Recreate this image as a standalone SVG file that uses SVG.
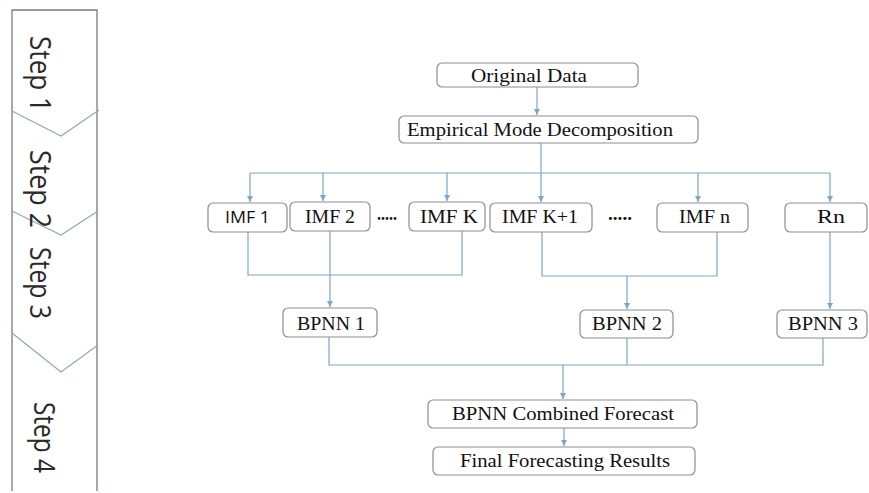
<svg xmlns="http://www.w3.org/2000/svg" width="869" height="493" viewBox="0 0 869 493">
<style>
.box{fill:#fff;stroke:#8e8e8e;stroke-width:1.2}
.t{font-family:"Liberation Serif","Times New Roman",serif;font-size:18px;fill:#111}
.s{font-family:"Open Sans","Noto Sans",sans-serif;font-size:16px;fill:#111}
.step{font-family:"Open Sans","Noto Sans",sans-serif;font-size:30px;fill:#2a2a2a}
.c{fill:none;stroke:#7ea6c9;stroke-width:1.2}
.a{fill:none;stroke:#7ea6c9;stroke-width:1.2;marker-end:url(#arr)}
.frame{fill:none;stroke:#6f7d85;stroke-width:1.3}
.chev{fill:none;stroke:#8eaab8;stroke-width:1.2}
</style>
<defs>
<marker id="arr" markerWidth="8" markerHeight="8" refX="6" refY="3" orient="auto" markerUnits="userSpaceOnUse">
<path d="M0,0 L6,3 L0,6 Z" fill="#7ea6c9"/>
</marker>
</defs>
<rect width="869" height="493" fill="#fff"/>

<g id="steps">
<path class="frame" d="M12,491 L12,10 L97,10 L97,491"/>
<polyline class="chev" points="12,111 61,136 99,110"/>
<polyline class="chev" points="12,211 61,235 98,211"/>
<polyline class="chev" points="12,333 61,372 98,345"/>
<text class="step" transform="translate(30,36) rotate(90)" textLength="76" lengthAdjust="spacingAndGlyphs">Step 1</text>
<text class="step" transform="translate(30,150) rotate(90)" textLength="78" lengthAdjust="spacingAndGlyphs">Step 2</text>
<text class="step" transform="translate(30,247) rotate(90)" textLength="72" lengthAdjust="spacingAndGlyphs">Step 3</text>
<text class="step" transform="translate(34,402) rotate(90)" textLength="71" lengthAdjust="spacingAndGlyphs">Step 4</text>
</g>

<g id="connectors">
<line class="a" x1="537" y1="87" x2="537" y2="115"/>
<line class="c" x1="541" y1="143" x2="541" y2="173"/>
<line class="c" x1="250" y1="173" x2="830" y2="173"/>
<line class="a" x1="250" y1="173" x2="250" y2="202"/>
<line class="a" x1="323" y1="173" x2="323" y2="201"/>
<line class="a" x1="447" y1="173" x2="447" y2="201"/>
<line class="a" x1="541" y1="173" x2="541" y2="202"/>
<line class="a" x1="698" y1="173" x2="698" y2="202"/>
<line class="a" x1="830" y1="173" x2="830" y2="202"/>
<polyline class="c" points="248,232 248,275 462,275 462,231"/>
<line class="a" x1="330" y1="231" x2="330" y2="307"/>
<polyline class="c" points="542,232 542,276 717,276 717,232"/>
<line class="a" x1="627" y1="276" x2="627" y2="309"/>
<line class="a" x1="830" y1="232" x2="830" y2="309"/>
<polyline class="c" points="329,337 329,365 823,365 823,338"/>
<line class="c" x1="627" y1="338" x2="627" y2="365"/>
<line class="a" x1="563" y1="365" x2="563" y2="399"/>
<line class="a" x1="564" y1="428" x2="564" y2="446"/>
</g>

<g id="original-data">
<rect class="box" x="437" y="63" width="201" height="24" rx="5"/>
<text class="t" x="471" y="82" textLength="116" lengthAdjust="spacingAndGlyphs">Original Data</text>
</g>
<g id="emd">
<rect class="box" x="399" y="116" width="299" height="27" rx="5"/>
<text class="t" x="407" y="136" font-size="17" textLength="266" lengthAdjust="spacingAndGlyphs">Empirical Mode Decomposition</text>
</g>
<g id="imf1">
<rect class="box" x="208" y="203" width="79" height="29" rx="5"/>
<text class="s" x="225" y="223" textLength="45" lengthAdjust="spacingAndGlyphs">IMF 1</text>
</g>
<g id="imf2">
<rect class="box" x="290" y="202" width="80" height="29" rx="5"/>
<text class="t" x="305" y="223" textLength="50" lengthAdjust="spacingAndGlyphs">IMF 2</text>
</g>
<g id="dots1">
<text class="t" x="377" y="220" font-weight="bold" textLength="20" lengthAdjust="spacingAndGlyphs">.....</text>
</g>
<g id="imfk">
<rect class="box" x="409" y="202" width="76" height="29" rx="5"/>
<text class="t" x="420" y="223" textLength="58" lengthAdjust="spacingAndGlyphs">IMF K</text>
</g>
<g id="imfk1">
<rect class="box" x="490" y="203" width="102" height="29" rx="5"/>
<text class="t" x="502" y="223" textLength="76" lengthAdjust="spacingAndGlyphs">IMF K+1</text>
</g>
<g id="dots2">
<text class="t" x="608" y="220" font-weight="bold" textLength="24" lengthAdjust="spacingAndGlyphs">.....</text>
</g>
<g id="imfn">
<rect class="box" x="657" y="203" width="91" height="29" rx="5"/>
<text class="t" x="679" y="223" textLength="51" lengthAdjust="spacingAndGlyphs">IMF n</text>
</g>
<g id="rn">
<rect class="box" x="785" y="203" width="82" height="29" rx="5"/>
<text class="t" x="817" y="223" textLength="28" lengthAdjust="spacingAndGlyphs">Rn</text>
</g>
<g id="bpnn1">
<rect class="box" x="283" y="308" width="94" height="29" rx="5"/>
<text class="t" x="297" y="330" textLength="68" lengthAdjust="spacingAndGlyphs">BPNN 1</text>
</g>
<g id="bpnn2">
<rect class="box" x="580" y="310" width="93" height="28" rx="5"/>
<text class="t" x="592" y="330" textLength="70" lengthAdjust="spacingAndGlyphs">BPNN 2</text>
</g>
<g id="bpnn3">
<rect class="box" x="777" y="310" width="90" height="28" rx="5"/>
<text class="t" x="788" y="330" textLength="70" lengthAdjust="spacingAndGlyphs">BPNN 3</text>
</g>
<g id="combined">
<rect class="box" x="428" y="400" width="269" height="28" rx="5"/>
<text class="t" x="452" y="420" textLength="222" lengthAdjust="spacingAndGlyphs">BPNN Combined Forecast</text>
</g>
<g id="final">
<rect class="box" x="433" y="447" width="262" height="28" rx="5"/>
<text class="t" x="460" y="467" textLength="210" lengthAdjust="spacingAndGlyphs">Final Forecasting Results</text>
</g>
</svg>
